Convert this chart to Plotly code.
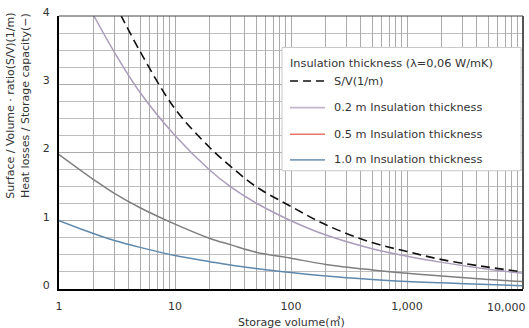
import plotly.graph_objects as go

# ---- data ----
volume = [1, 2, 3, 5, 10, 20, 30, 50, 100, 200, 500, 1000, 2000, 5000, 10000]
sv_ratio = [None, None, 4.2, 3.48, 2.64, 2.07, 1.8, 1.5, 1.21, 0.94, 0.68, 0.55, 0.43, 0.32, 0.25]
ins_02 = [None, 4.0, 3.47, 2.88, 2.25, 1.74, 1.5, 1.26, 1.0, 0.79, 0.59, 0.48, 0.39, 0.29, 0.23]
ins_05 = [1.97, 1.60, 1.40, 1.19, 0.95, 0.74, 0.65, 0.54, 0.45, 0.36, 0.28, 0.23, 0.19, 0.14, 0.11]
ins_10 = [1.0, 0.81, 0.71, 0.61, 0.49, 0.40, 0.35, 0.30, 0.24, 0.19, 0.14, 0.11, 0.09, 0.065, 0.047]

x_major = [1, 10, 100, 1000, 10000]
x_major_labels = ["1", "10", "100", "1,000", "10,000"]
y_ticks = [0, 1, 2, 3, 4]

legend_title = "Insulation thickness (\u03bb=0,06 W/mK)"
legend_labels = ["S/V(1/m)", "0.2 m Insulation thickness",
                 "0.5 m Insulation thickness", "1.0 m Insulation thickness"]
x_title = "Storage volume(\u33a5)"
y_title = "Surface / Volume \u00b7 ratio(S/V)(1/m)<br>Heat losses / Storage capacity(\u2212)"

# ---- styles ----
FONT = "DejaVu Sans, Noto Sans CJK KR, sans-serif"
TXT = "#333333"
C_SV = "#111111"
C_02 = "#ab9dbb"
C_05 = "#7f7f7f"
C_10 = "#5f88ad"
LEG_COLORS = [C_SV, "#c2b6cf", "#e8766a", "#7f9fbd"]
DASH_SV = "9px,5px"
LEG_DASH = ["8px,5px", "solid", "solid", "solid"]

W, H = 529, 328
L, R, T, B = 59, 523, 12, 289

def px(x):
    return (x - L) / (R - L)

def py(y):
    return (B - y) / (B - T)

fig = go.Figure()
for vals, col, dash, w in [(ins_10, C_10, "solid", 1.5), (ins_05, C_05, "solid", 1.5),
                           (ins_02, C_02, "solid", 1.5), (sv_ratio, C_SV, DASH_SV, 1.6)]:
    fig.add_trace(go.Scatter(x=volume, y=vals, mode="lines", showlegend=False,
                             line=dict(color=col, width=w, dash=dash, shape="spline", smoothing=1.0),
                             connectgaps=False, hoverinfo="skip"))

# grid values for log axis (1..9 per decade)
x_grid = []
for k in range(4):
    for d in range(1, 10):
        x_grid.append(d * 10 ** k)
x_grid.append(10000)
x_text = [x_major_labels[x_major.index(v)] if (v in x_major and v != 10000) else "" for v in x_grid]

fig.update_xaxes(type="log", range=[0, 4], tickvals=x_grid, ticktext=x_text,
                 showgrid=True, gridcolor="#ababab", gridwidth=1,
                 showline=True, linecolor="#000000", linewidth=2, mirror=False,
                 ticks="", tickfont=dict(family=FONT, size=11, color=TXT),
                 ticklabelstandoff=6, zeroline=False)
fig.update_yaxes(range=[0, 4], tickvals=y_ticks, ticktext=[str(v) for v in y_ticks],
                 showgrid=True, gridcolor="#ababab", gridwidth=1,
                 minor=dict(dtick=0.25, showgrid=True, gridcolor="#bdbdbd", gridwidth=1),
                 showline=True, linecolor="#000000", linewidth=2,
                 ticks="", tickfont=dict(family=FONT, size=11, color=TXT),
                 ticklabelstandoff=5, ticklabelshift=-4, zeroline=False)

shapes = []
annotations = []
# top and right frame
shapes.append(dict(type="line", xref="paper", yref="paper", x0=0, x1=1, y0=1, y1=1,
                   line=dict(color="#444444", width=1)))
shapes.append(dict(type="line", xref="paper", yref="paper", x0=1, x1=1, y0=0, y1=1,
                   line=dict(color="#555555", width=2)))

# legend box
shapes.append(dict(type="rect", xref="paper", yref="paper",
                   x0=px(282), x1=px(521), y0=py(169), y1=py(44),
                   fillcolor="white", line=dict(color="#c8c8c8", width=1), layer="above"))
annotations.append(dict(xref="paper", yref="paper", x=px(288), y=py(60), text=legend_title,
                        showarrow=False, xanchor="left", yanchor="middle",
                        font=dict(family=FONT, size=11.3, color=TXT)))
row_y = [78, 105, 132, 158]
for lab, col, dash, yy in zip(legend_labels, LEG_COLORS, LEG_DASH, row_y):
    shapes.append(dict(type="line", xref="paper", yref="paper", x0=px(290), x1=px(325),
                       y0=py(yy), y1=py(yy), layer="above",
                       line=dict(color=col, width=1.6, dash=dash)))
    annotations.append(dict(xref="paper", yref="paper", x=px(332), y=py(yy), text=lab,
                            showarrow=False, xanchor="left", yanchor="middle",
                            font=dict(family=FONT, size=11.3, color=TXT)))

# last x tick label (right-aligned so it stays inside the picture)
annotations.append(dict(xref="x", yref="paper", x=4, y=0, text=x_major_labels[-1],
                        showarrow=False, xanchor="right", yanchor="middle", xshift=5,
                        yshift=-(307 - B),
                        font=dict(family=FONT, size=11, color=TXT)))
# axis titles
annotations.append(dict(xref="paper", yref="paper", x=0.5, y=0, text=x_title,
                        showarrow=False, xanchor="center", yanchor="middle", yshift=-(322 - B),
                        font=dict(family=FONT, size=11, color=TXT)))
annotations.append(dict(xref="paper", yref="paper", x=0, y=py(103), text=y_title,
                        showarrow=False, xanchor="center", yanchor="middle", textangle=-90,
                        xshift=-(L - 18), font=dict(family=FONT, size=11, color=TXT)))

fig.update_layout(width=W, height=H, margin=dict(l=L, r=W - R, t=T, b=H - B),
                  paper_bgcolor="white", plot_bgcolor="white",
                  shapes=shapes, annotations=annotations, showlegend=False)

fig.write_html("out.html", config={"displayModeBar": False},
               post_script="document.body.style.margin='0px';")
